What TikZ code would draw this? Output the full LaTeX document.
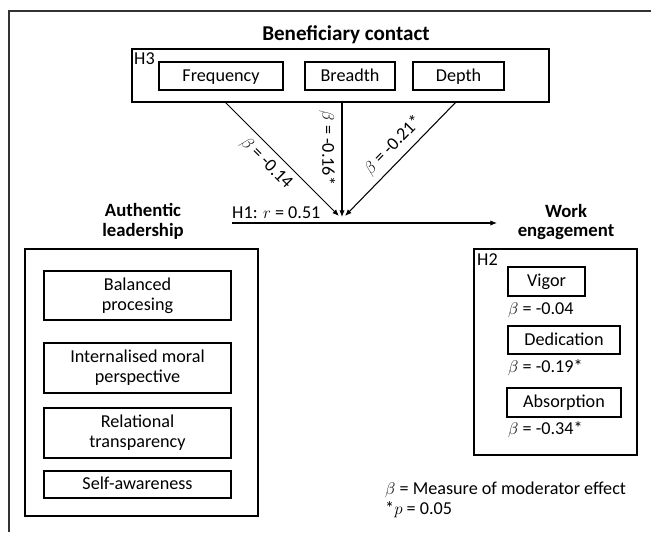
\documentclass[tikz,border=0pt]{standalone}
\usepackage{fontspec}
\setmainfont{Carlito}
\usetikzlibrary{arrows.meta}

\tikzset{
    box/.style={draw, line width=1.1pt, align=center, inner sep=2pt},
    onerow/.style={box, text height=12pt, text depth=3pt},
    title/.style={font=\fontsize{16}{17}\selectfont\bfseries, align=center},
    plain/.style={inner sep=0pt},
    arr/.style={-{Latex[length=2mm,width=1.6mm]}, line width=0.9pt}
}

\begin{document}
\begin{tikzpicture}[x=0.03cm, y=-0.03cm, font=\fontsize{15.5}{17}\selectfont]
    \useasboundingbox (0,0) rectangle (651,532);

    % Frame
    \draw[line width=1.2pt, black!80] (9,532) -- (9,11) -- (651,11);

    % Beneficiary contact
    \node[title, font=\fontsize{18}{19}\selectfont\bfseries] (bctitle) at (346,35) {Beneficiary contact};
    \node[box, minimum width=12.51cm, minimum height=1.59cm] (bc) at (340.5,75.5) {};
    \node[plain, anchor=north west] (h3) at (134,52) {H3};
    \node[onerow, minimum width=3.72cm, minimum height=0.84cm] (freq) at (221,76) {Frequency};
    \node[onerow, minimum width=2.7cm, minimum height=0.84cm] (breadth) at (350,76) {Breadth};
    \node[onerow, minimum width=2.73cm, minimum height=0.84cm] (depth) at (458.5,76) {Depth};

    % Authentic leadership
    \node[title] (altitle) at (143,221) {Authentic\\leadership};
    \node[box, minimum width=6.99cm, minimum height=8.01cm] (al) at (141.5,382.5) {};
    \node[box, minimum width=5.61cm, minimum height=1.47cm] (bal) at (137.5,295.5) {Balanced\\procesing};
    \node[box, minimum width=5.61cm, minimum height=1.5cm] (moral) at (137.5,368) {Internalised moral\\perspective};
    \node[box, minimum width=5.61cm, minimum height=1.5cm] (trans) at (137.5,433) {Relational\\transparency};
    \node[onerow, minimum width=5.61cm, minimum height=0.81cm] (self) at (137.5,484.5) {Self-awareness};

    % Work engagement
    \node[title] (wetitle) at (566,222) {Work\\engagement};
    \node[box, minimum width=4.89cm, minimum height=6.18cm] (we) at (555.5,352) {};
    \node[plain, anchor=north west] (h2) at (477,253) {H2};
    \node[onerow, minimum width=2.31cm, minimum height=0.87cm] (vigor) at (546.5,281.5) {Vigor};
    \node[plain, anchor=west] (bvigor) at (508,310) {$\beta$ = -0.04};
    \node[onerow, minimum width=3.36cm, minimum height=0.84cm] (ded) at (564,340) {Dedication};
    \node[plain, anchor=west] (bded) at (508,368) {$\beta$ = -0.19*};
    \node[onerow, minimum width=3.42cm, minimum height=0.87cm] (abs) at (564,402.5) {Absorption};
    \node[plain, anchor=west] (babs) at (508,430) {$\beta$ = -0.34*};

    % Moderator arrows
    \coordinate (mfreq) at (339,216);
    \coordinate (mbreadth) at (342,217);
    \coordinate (mdepth) at (345,216);
    \coordinate (fromfreq) at (225,102);
    \coordinate (frombreadth) at (342,102);
    \coordinate (fromdepth) at (456,102);
    \draw[arr] (fromfreq) -- node[sloped, below=2pt, pos=0.45] {$\beta$ = -0.14} (mfreq);
    \draw[arr] (frombreadth) -- node[sloped, below=2pt, pos=0.4] {$\beta$ = -0.16*} (mbreadth);
    \draw[arr] (fromdepth) -- node[sloped, above=2pt, pos=0.47] {$\beta$ = -0.21*} (mdepth);

    % Main effect
    \coordinate (h1a) at (232,223);
    \coordinate (h1b) at (497,223);
    \draw[arr] (h1a) -- (h1b);
    \node[plain, anchor=base west] (h1) at (232,218) {H1: $r$ = 0.51};

    % Legend
    \node[plain, anchor=west] (legbeta) at (385,490) {$\beta$ = Measure of moderator effect};
    \node[plain, anchor=west] (legp) at (385,510) {*$p$ = 0.05};
\end{tikzpicture}
\end{document}
